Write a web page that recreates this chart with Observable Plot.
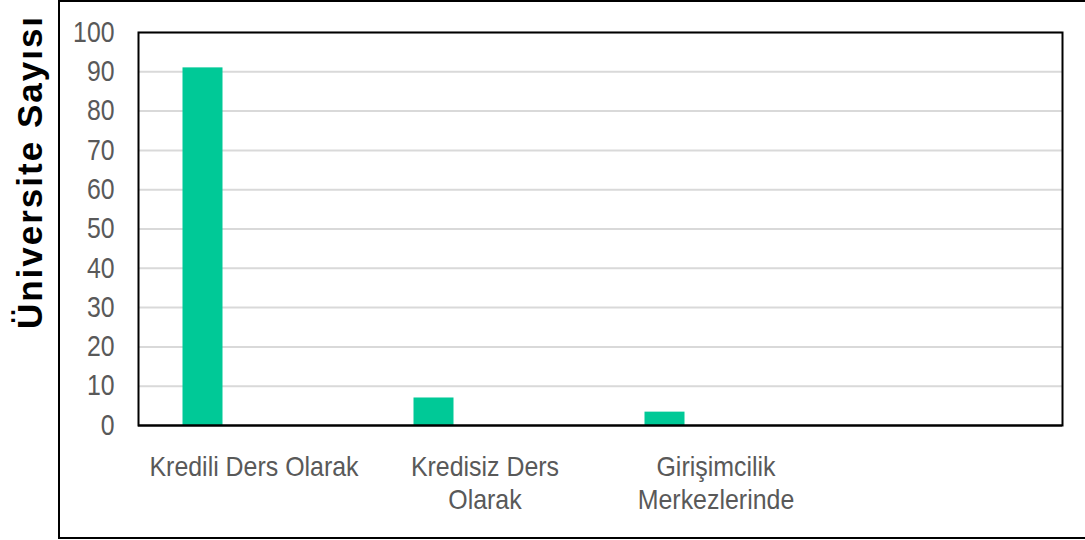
<!DOCTYPE html>
<html>
<head>
<meta charset="utf-8">
<script src="https://cdn.jsdelivr.net/npm/d3@7"></script>
<script src="https://cdn.jsdelivr.net/npm/@observablehq/plot@0.6"></script>
<style>
html, body { margin: 0; padding: 0; background: #fff; overflow: hidden; }
#wrap { position: relative; width: 1085px; height: 540px; }
#border { position: absolute; left: 58px; top: 0; width: 1100px; height: 535px; border: 2px solid #000; pointer-events: none; }
#wrap svg { position: absolute; left: 0; top: 0; }
</style>
</head>
<body>
<div id="wrap"><div id="border"></div></div>
<script>
const categories = ["Kredili Ders Olarak", "Kredisiz Ders Olarak", "Girişimcilik Merkezlerinde", ""];
const tickLabels = ["Kredili Ders Olarak", "Kredisiz Ders\nOlarak", "Girişimcilik\nMerkezlerinde", ""];
const values = [91, 7, 3.4];
const yTicks = [0, 10, 20, 30, 40, 50, 60, 70, 80, 90, 100];
const yTitle = "Üniversite Sayısı";

const data = values.map((v, i) => ({category: categories[i], value: v}));

const sans = "'Liberation Sans', Arial, sans-serif";

const chart = Plot.plot({
  width: 1085,
  height: 540,
  marginLeft: 138,
  marginRight: 23,
  marginTop: 32,
  marginBottom: 115,
  style: {background: "transparent", fontFamily: sans, overflow: "visible"},
  x: {type: "band", domain: categories, padding: 0},
  y: {domain: [0, 100]},
  marks: [
    Plot.ruleY(yTicks.filter(d => d > 0), {stroke: "#d9d9d9", strokeWidth: 2}),
    Plot.barY(data, {x: "category", y: "value", fill: "#00c997", insetLeft: 44.5, insetRight: 146.5}),
    Plot.ruleY([0], {stroke: "#000", strokeWidth: 2}),
    Plot.frame({stroke: "#000", strokeWidth: 2}),
    Plot.axisY({ticks: yTicks, tickSize: 0, tickPadding: 24, fontSize: 29, fill: "#595959", label: null}),
    Plot.axisX({tickSize: 0, tickPadding: 27, fontSize: 28, fill: "#595959", label: null, lineHeight: 1.18,
      tickFormat: d => tickLabels[categories.indexOf(d)]}),
    Plot.text([yTitle], {text: d => d, frameAnchor: "left", dx: -108, dy: -57, rotate: -90,
      textAnchor: "middle", lineAnchor: "middle", fontSize: 35, fontWeight: "bold", fill: "#000"})
  ]
});

const svg = d3.select(chart);
svg.selectAll("text").filter(function() { return this.textContent === yTitle; })
  .style("letter-spacing", "2px");

// condensed look of the original's tick labels
function squeeze(selector, s) {
  svg.selectAll(selector).each(function() {
    const t = d3.select(this);
    let tr = t.attr("transform");
    if (!tr) {
      const x = +t.attr("x") || 0, y = +t.attr("y") || 0;
      t.attr("x", null).attr("y", null);
      tr = `translate(${x},${y})`;
    }
    t.attr("transform", `${tr} scale(${s},1)`);
  });
}
squeeze('g[aria-label="y-axis tick label"] text', 0.856);
squeeze('g[aria-label="x-axis tick label"] text', 0.89);

document.getElementById("wrap").prepend(chart);
</script>
</body>
</html>
